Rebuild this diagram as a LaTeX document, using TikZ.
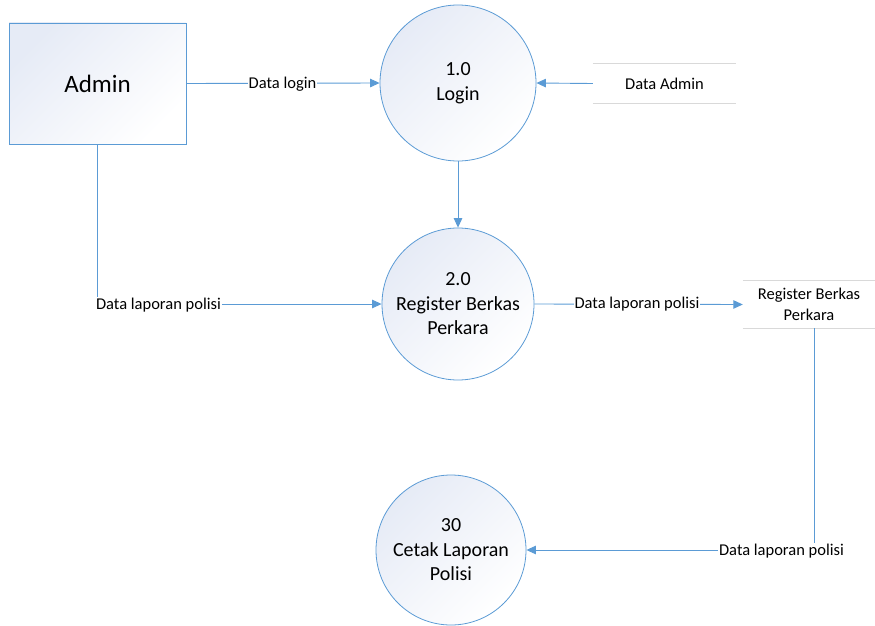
\documentclass[tikz,border=0pt]{standalone}
\usepackage{fontspec}
\setmainfont{Carlito}
\usetikzlibrary{arrows.meta}
\definecolor{lineblue}{HTML}{5B9BD5}
\definecolor{fillblue}{HTML}{E6EBF6}
\definecolor{storegrey}{HTML}{D9D9D9}
\tikzset{
  entity/.style={draw=lineblue, line width=0.9pt, rectangle, minimum width=177pt, minimum height=121pt,
    top color=fillblue, bottom color=white, shading angle=45, font=\fontsize{25}{30}\selectfont, inner sep=0pt},
  proc/.style={draw=lineblue, line width=0.8pt, circle, inner sep=0pt,
    top color=fillblue, bottom color=white, shading angle=45, font=\fontsize{20}{24.5}\selectfont, align=center},
  storetext/.style={font=\fontsize{16.5}{21}\selectfont, align=center, inner sep=0pt},
  flow/.style={draw=lineblue, line width=0.9pt, -{Triangle[length=9.5pt,width=8.5pt]}},
  plainflow/.style={draw=lineblue, line width=0.9pt},
  flowlabel/.style={fill=white, inner sep=1pt, font=\fontsize{16.5}{20}\selectfont},
  storeline/.style={draw=storegrey, line width=1.2pt}
}
\begin{document}
\begin{tikzpicture}[x=1pt,y=-1pt]
\useasboundingbox (0,0) rectangle (875,626);

% external entity
\node[entity] (admin) at (97.5,83.5) {Admin};

% processes
\node[proc, minimum size=156pt] (p1) at (458,83) {1.0\\Login};
\node[proc, minimum size=152pt] (p2) at (458,304) {2.0\\Register Berkas\\Perkara};
\node[proc, minimum size=150pt] (p3) at (451,550) {30\\Cetak Laporan\\Polisi};

% data stores
\node[storetext, minimum width=143pt, minimum height=39pt] (ds1) at (664.5,83.5) {Data Admin};
\draw[storeline] (ds1.north west) -- (ds1.north east);
\draw[storeline] (ds1.south west) -- (ds1.south east);

\node[storetext, minimum width=132pt, minimum height=47pt] (ds2) at (809,304.5) {Register Berkas\\Perkara};
\draw[storeline] (ds2.north west) -- (ds2.north east);
\draw[storeline] (ds2.south west) -- (ds2.south east);

% flows
\draw[flow] (admin.east) -- (p1.west);
\node[flowlabel] (l1) at (282.5,84) {Data login};

\draw[flow] (ds1.west) -- (p1.east);

\draw[flow] (p1.south) -- (p2.north);

\draw[flow] (admin.south) |- (p2.west);
\node[flowlabel] (l2) at (158.5,305) {Data laporan polisi};

\draw[flow] (p2.east) -- (ds2.west);
\node[flowlabel] (l3) at (637,304) {Data laporan polisi};

\draw[flow] ([xshift=5pt]ds2.south) |- (p3.east);
\node[flowlabel] (l4) at (781.5,551) {Data laporan polisi};
\end{tikzpicture}
\end{document}
